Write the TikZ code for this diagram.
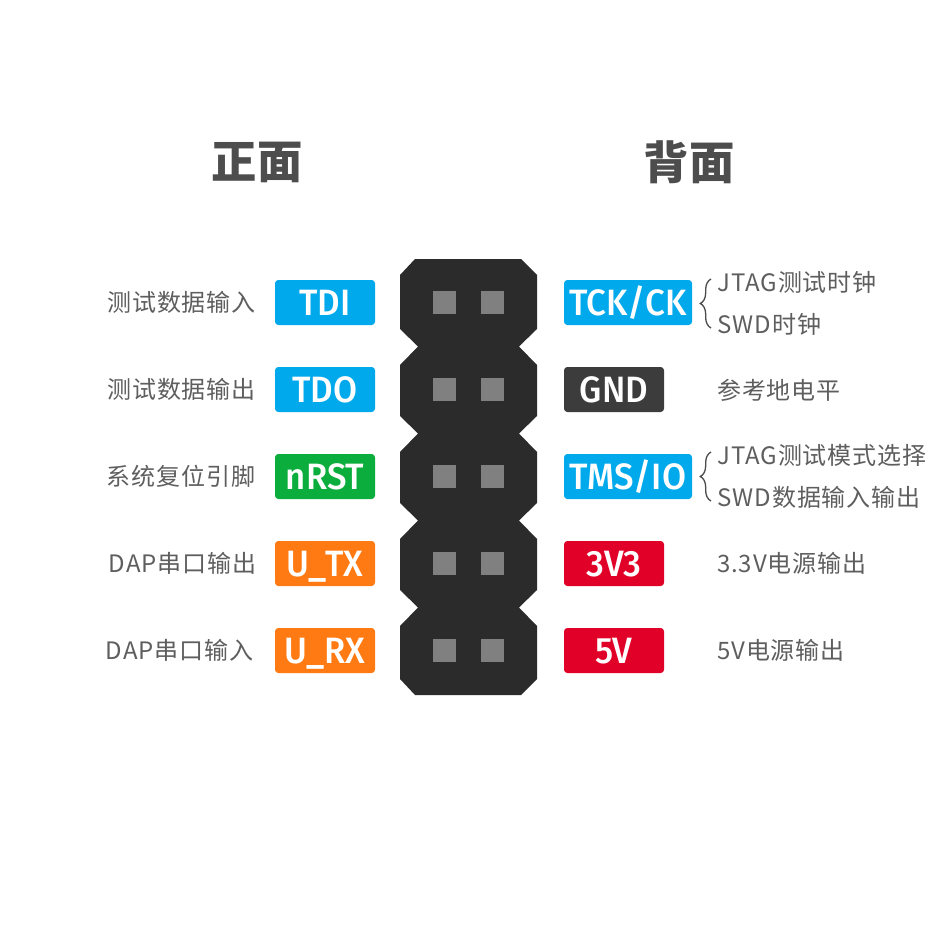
\documentclass[tikz,border=0pt]{standalone}
\usepackage{fontspec}
\usetikzlibrary{decorations.pathreplacing}
\newfontfamily\cjk[LetterSpace=3.5]{Noto Sans CJK SC}
\newfontfamily\cjkhead{Noto Sans CJK SC}
\newfontfamily\tagfont[FakeStretch=0.95]{Fira Sans Medium}
\definecolor{headerblack}{HTML}{2B2B2B}
\definecolor{pingray}{HTML}{808080}
\definecolor{textgray}{HTML}{5E5E5E}
\definecolor{headgray}{HTML}{4D4D4D}
\definecolor{tagblue}{HTML}{00A8EC}
\definecolor{tagdark}{HTML}{3C3C3C}
\definecolor{taggreen}{HTML}{0BAE3C}
\definecolor{tagorange}{HTML}{FF7A12}
\definecolor{tagred}{HTML}{E00028}
\begin{document}
\begin{tikzpicture}
[x=0.75pt, y=0.75pt, node distance=65.25pt]
\tikzstyle{pinhole}=[rectangle, fill=pingray, inner sep=0mm, minimum size=17pt]
\tikzstyle{pintag}=[rectangle, rounded corners=2.5pt, inner sep=0mm, minimum height=33.75pt, minimum width=75pt, text height=20pt, text depth=0pt, text=white, font=\tagfont\fontsize{27.5}{27.5}\selectfont]
\tikzstyle{wide}=[minimum width=96pt]
\tikzstyle{desc}=[inner sep=0mm, text=textgray, font=\cjk\fontsize{18}{18}\selectfont]
\tikzstyle{head}=[inner sep=0mm, text=headgray, font=\cjkhead\fontsize{34}{34}\selectfont\bfseries]
\tikzstyle{curly}=[draw=headgray, line width=1pt, decorate, decoration={brace, amplitude=8pt}]
\useasboundingbox (0,0) rectangle (945,-945);

\node[head]	(front)	at (257,-162)	{正面};
\node[head]	(back)	at (689,-162)	{背面};

% header body
\fill[headerblack] (415,-259)--(521,-259)--(537,-275)--(537,-329)--(519,-346.5)--(537,-365)
  --(537,-416)--(519,-433.5)--(537,-452)--(537,-503)--(519,-520.5)--(537,-539)
  --(537,-590)--(519,-607.5)--(537,-626)--(537,-679)--(521,-695)--(415,-695)--(400,-679)
  --(400,-626)--(418,-607.5)--(400,-590)--(400,-539)--(418,-520.5)--(400,-503)
  --(400,-452)--(418,-433.5)--(400,-416)--(400,-365)--(418,-346.5)--(400,-329)
  --(400,-275)--cycle;

\node[pinhole]	(A1)	at (444.5,-302.5)	{};
\node[pinhole]	(A2)	[below of=A1]	{};
\node[pinhole]	(A3)	[below of=A2]	{};
\node[pinhole]	(A4)	[below of=A3]	{};
\node[pinhole]	(A5)	[below of=A4]	{};
\node[pinhole]	(B1)	at (492.5,-302.5)	{};
\node[pinhole]	(B2)	[below of=B1]	{};
\node[pinhole]	(B3)	[below of=B2]	{};
\node[pinhole]	(B4)	[below of=B3]	{};
\node[pinhole]	(B5)	[below of=B4]	{};

\node[pintag, fill=tagblue]	(TDI)	at (325,-302.5)	{TDI};
\node[pintag, fill=tagblue]	(TDO)	[below of=TDI]	{TDO};
\node[pintag, fill=taggreen]	(nRST)	[below of=TDO]	{nRST};
\node[pintag, fill=tagorange]	(UTX)	[below of=nRST]	{U\_TX};
\node[pintag, fill=tagorange]	(URX)	[below of=UTX]	{U\_RX};

\node[pintag, wide, fill=tagblue]	(TCK)	at (628,-302.5)	{TCK/CK};
\node[pintag, fill=tagdark]	(GND)	at (614,-389.5)	{GND};
\node[pintag, wide, fill=tagblue]	(TMS)	at (628,-476.5)	{TMS/IO};
\node[pintag, fill=tagred]	(V33)	at (614,-563.5)	{3V3};
\node[pintag, fill=tagred]	(V5)	at (614,-650.5)	{5V};

\node[desc]	(dTDI)	at (181.5,-302.5)	{测试数据输入};
\node[desc]	(dTDO)	at (181.5,-389.5)	{测试数据输出};
\node[desc]	(dnRST)	at (181,-476.5)	{系统复位引脚};
\node[desc]	(dUTX)	at (182.5,-563.5)	{DAP串口输出};
\node[desc]	(dURX)	at (179.5,-650.5)	{DAP串口输入};

\node[desc, anchor=west]	(dTCKa)	at (717.5,-282.5)	{JTAG测试时钟};
\node[desc, anchor=west]	(dTCKb)	at (717.5,-324.5)	{SWD时钟};
\node[desc, anchor=west]	(dGND)	at (717,-390.5)	{参考地电平};
\node[desc, anchor=west]	(dTMSa)	at (717.5,-455.5)	{JTAG测试模式选择};
\node[desc, anchor=west]	(dTMSb)	at (717.5,-497.5)	{SWD数据输入输出};
\node[desc, anchor=west]	(dV33)	at (717,-563.5)	{3.3V电源输出};
\node[desc, anchor=west]	(dV5)	at (717,-650.5)	{5V电源输出};

\coordinate	(b1top)	at (711,-279);
\coordinate	(b1bot)	at (711,-328);
\coordinate	(b2top)	at (711,-452);
\coordinate	(b2bot)	at (711,-501);
\draw[curly] (b1bot)--(b1top);
\draw[curly] (b2bot)--(b2top);
\end{tikzpicture}
\end{document}
